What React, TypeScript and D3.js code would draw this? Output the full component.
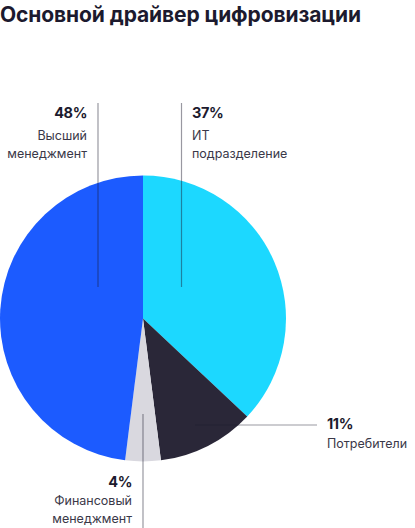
import React from "react";
import * as d3 from "d3";

const title = "Основной драйвер цифровизации";
const categories = ["ИТ подразделение", "Потребители", "Финансовый менеджмент", "Высший менеджмент"];
const values = [37, 11, 4, 48];
const colors = ["#1cd8ff", "#2a2738", "#d9d8df", "#1c5bff"];
const labelLines = [["ИТ", "подразделение"], ["Потребители"], ["Финансовый", "менеджмент"], ["Высший", "менеджмент"]];

const W = 415, H = 528;
const cx = 143, cy = 318.5, R = 143;

export default function App() {
  const pie = d3.pie<number>().sort(null).value((d) => d);
  const arcs = pie(values);
  const arcGen = d3.arc<d3.PieArcDatum<number>>().innerRadius(0).outerRadius(R);
  const lineColor = "#1d1a2e";
  const font = "Inter, 'Noto Sans', sans-serif";
  const pct = (v: number) => `${v}%`;
  return (
    <svg width={W} height={H} style={{ position: "absolute", left: 0, top: 0, background: "#fff" }}>
      <text x={0} y={22} fontFamily={font} fontWeight={700} fontSize={21} fill="#1c1a2e" letterSpacing={-0.1}>
        {title}
      </text>
      <g transform={`translate(${cx},${cy})`}>
        {arcs.map((a, i) => (
          <path key={i} d={arcGen(a) || ""} fill={colors[i]} />
        ))}
      </g>
      {/* leader lines */}
      <g stroke={lineColor} strokeOpacity={0.45} strokeWidth={1.2}>
        <line x1={cx - 45} x2={cx - 45} y1={103} y2={cy - 31.5} />
        <line x1={cx + 38.5} x2={cx + 38.5} y1={103} y2={cy - 31.5} />
        <line x1={cx + 52} x2={cx + 174} y1={cy + 106.5} y2={cy + 106.5} />
        <line x1={cx} x2={cx} y1={cy + 95.5} y2={H} />
      </g>
      {/* labels */}
      <g fontFamily={font}>
        <text x={87} y={118} textAnchor="end" fontWeight={700} fontSize={14.5} fill="#1c1a2e" letterSpacing={-0.4}>{pct(values[3])}</text>
        {labelLines[3].map((t, j) => (
          <text key={j} x={87} y={140 + j * 18} textAnchor="end" fontSize={12.5} fill="#3a3848">{t}</text>
        ))}
        <text x={192} y={118} fontWeight={700} fontSize={14.5} fill="#1c1a2e" letterSpacing={-0.4}>{pct(values[0])}</text>
        {labelLines[0].map((t, j) => (
          <text key={j} x={192} y={140 + j * 18} fontSize={12.5} fill="#3a3848">{t}</text>
        ))}
        <text x={327} y={429} fontWeight={700} fontSize={14.5} fill="#1c1a2e" letterSpacing={-0.4}>{pct(values[1])}</text>
        {labelLines[1].map((t, j) => (
          <text key={j} x={327} y={448 + j * 18} fontSize={12.5} fill="#3a3848">{t}</text>
        ))}
        <text x={132} y={487} textAnchor="end" fontWeight={700} fontSize={14.5} fill="#1c1a2e" letterSpacing={-0.4}>{pct(values[2])}</text>
        {labelLines[2].map((t, j) => (
          <text key={j} x={132} y={505 + j * 18} textAnchor="end" fontSize={12.5} fill="#3a3848">{t}</text>
        ))}
      </g>
    </svg>
  );
}
